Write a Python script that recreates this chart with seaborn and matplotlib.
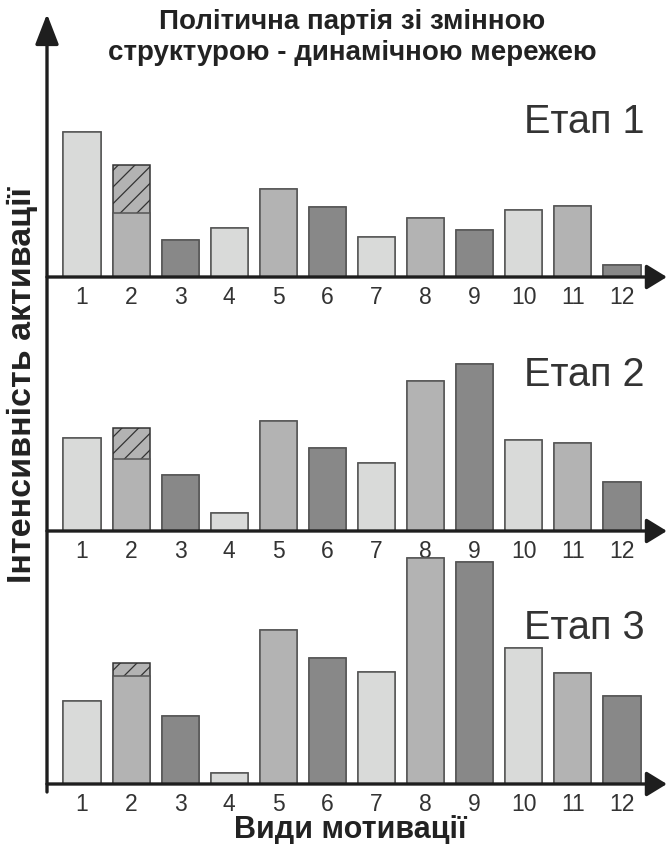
import matplotlib
matplotlib.use("Agg")
import matplotlib.pyplot as plt
from matplotlib.patches import FancyArrowPatch
import seaborn as sns
import pandas as pd

# ---- data -------------------------------------------------------------
motivations = [str(i) for i in range(1, 13)]
stage_names = ["Етап 1", "Етап 2", "Етап 3"]
stage1_base = [145, 64, 37, 49, 88, 70, 40, 59, 47, 67, 71, 12]
stage1_extra = [0, 48, 0, 0, 0, 0, 0, 0, 0, 0, 0, 0]
stage2_base = [93, 72, 56, 18, 110, 83, 68, 150, 167, 91, 88, 49]
stage2_extra = [0, 31, 0, 0, 0, 0, 0, 0, 0, 0, 0, 0]
stage3_base = [83, 108, 68, 11, 154, 126, 112, 226, 222, 136, 111, 88]
stage3_extra = [0, 13, 0, 0, 0, 0, 0, 0, 0, 0, 0, 0]
title_lines = ["Політична партія зі змінною", "структурою - динамічною мережею"]
x_title = "Види мотивації"
y_title = "Інтенсивність активації"

bar_colors = ["#d9dad9", "#b3b3b3", "#888888"] * 4

# ---- style ------------------------------------------------------------
sns.set_theme(style="white")
plt.rcParams["font.family"] = ["Liberation Sans", "DejaVu Sans"]
plt.rcParams["hatch.linewidth"] = 0.9

W, H = 667, 845
fig = plt.figure(figsize=(W / 100, H / 100), dpi=100)

def fx(px):
    return px / W

def fy(px):
    return 1 - px / H

# axes: (top px, baseline px) for each panel
panels = [(100, 278), (290, 532), (545, 785)]
stages = [(stage1_base, stage1_extra), (stage2_base, stage2_extra), (stage3_base, stage3_extra)]
label_baselines = [133, 386, 639]

x_left, x_right = 47, 665
line_col = "#1e1e1e"

for (top, base), (vals, extra), name, lb in zip(panels, stages, stage_names, label_baselines):
    ax = fig.add_axes([fx(x_left), fy(base), fx(x_right - x_left), (base - top) / H])
    totals = [v + e for v, e in zip(vals, extra)]
    df_tot = pd.DataFrame({"m": motivations, "v": totals})
    df_base = pd.DataFrame({"m": motivations, "v": vals})
    sns.barplot(data=df_tot, x="m", y="v", hue="m", palette=bar_colors, legend=False,
                order=motivations, width=0.754, edgecolor="#555555", linewidth=1.1,
                ax=ax, zorder=2)
    for i, e in enumerate(extra):
        if e > 0:
            ax.patches[i].set_hatch("//")
            ax.patches[i].set_edgecolor("#333333")
    sns.barplot(data=df_base, x="m", y="v", hue="m", palette=bar_colors, legend=False,
                order=motivations, width=0.754, edgecolor="#555555", linewidth=1.1,
                ax=ax, zorder=3)
    ax.set_xlim(-0.713, 11.876)
    ax.set_ylim(0, base - top)
    ax.set_xlabel("")
    ax.set_ylabel("")
    ax.set_yticks([])
    for s in ax.spines.values():
        s.set_visible(False)
    ax.patch.set_alpha(0)
    ax.tick_params(axis="x", length=0, pad=6, labelsize=16.5, labelcolor="#333333")
    # horizontal axis arrow
    arr = FancyArrowPatch((0, 0), (1.003, 0), transform=ax.transAxes,
                          arrowstyle="-|>,head_length=0.62,head_width=0.38",
                          mutation_scale=20, lw=2.4, color=line_col,
                          shrinkA=0, shrinkB=0, zorder=5, clip_on=False)
    ax.add_patch(arr)
    fig.text(fx(645), fy(lb), name, ha="right", va="baseline", fontsize=28.5, color="#333333")

# vertical axis arrow
varr = FancyArrowPatch((fx(47), fy(793)), (fx(47), fy(15)), transform=fig.transFigure,
                       arrowstyle="-|>,head_length=0.93,head_width=0.36",
                       mutation_scale=20, lw=2.4, color=line_col, shrinkA=0, shrinkB=0)
fig.add_artist(varr)

# titles
fig.text(fx(352), fy(29), title_lines[0], ha="center", va="baseline",
         fontsize=20, fontweight="bold", color="#222222")
fig.text(fx(352), fy(60), title_lines[1], ha="center", va="baseline",
         fontsize=20, fontweight="bold", color="#222222")
fig.text(fx(350), fy(838), x_title, ha="center", va="baseline",
         fontsize=22, fontweight="bold", color="#222222")
fig.text(fx(22), fy(385), y_title, ha="center", va="center", rotation=90,
         fontsize=24.5, fontweight="bold", color="#222222")

fig.savefig("out.png", dpi=100)
